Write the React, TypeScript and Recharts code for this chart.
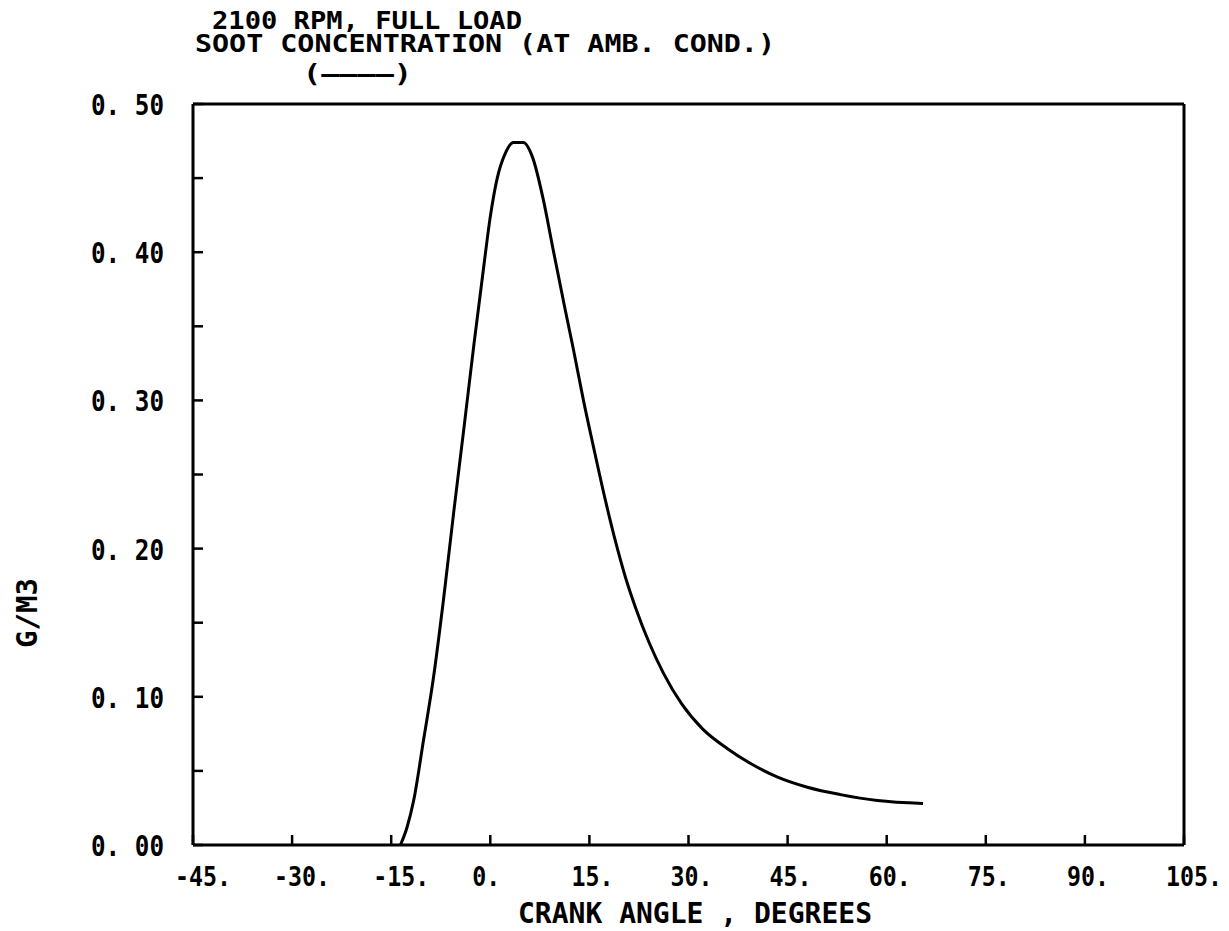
import React from "react";
import {
  Line,
  LineChart,
  ReferenceLine,
  XAxis,
  YAxis,
} from "recharts";

// Soot concentration trace, 2100 rpm full load
const crankAngle = [
  -13.6, -12.6, -11.6, -10.1, -8.6, -7.1, -5.5, -4.0, -2.5, -1.0, 0.0, 1.0,
  2.3, 3.5, 5.0, 6.4, 8.0, 9.5, 11.3, 12.6, 14.1, 15.6, 17.4, 19.0, 20.5, 22.0,
  24.0, 26.2, 29.0, 32.2, 35.9, 39.4, 43.4, 48.0, 53.0, 58.6, 65.5,
];
const sootConc = [
  0.0, 0.012, 0.03, 0.071, 0.113, 0.165, 0.226, 0.281, 0.337, 0.39, 0.424,
  0.449, 0.467, 0.474, 0.474, 0.464, 0.436, 0.402, 0.362, 0.334, 0.3, 0.269,
  0.233, 0.204, 0.18, 0.16, 0.137, 0.116, 0.095, 0.078, 0.065, 0.055, 0.046,
  0.039, 0.034, 0.03, 0.028,
];

const xTicks = [-45, -30, -15, 0, 15, 30, 45, 60, 75, 90, 105];
const yTicks = [0, 0.05, 0.1, 0.15, 0.2, 0.25, 0.3, 0.35, 0.4, 0.45, 0.5];

const titleLines = [
  "2100 RPM, FULL LOAD",
  "SOOT CONCENTRATION (AT AMB. COND.)",
];
const xLabel = "CRANK ANGLE , DEGREES";
const yLabel = "G/M3";

// plotter lettering is monospaced and bold
const FONT = "'DejaVu Sans Mono', monospace";

const data = crankAngle.map((x, i) => ({ x, y: sootConc[i] }));

function XTick(props: any) {
  const { x, y, payload } = props;
  const label = `${payload.value}.`;
  return (
    <g>
      <line x1={x} x2={x} y1={y} y2={y - 10} stroke="#000" strokeWidth={2.5} />
      <text
        x={x - 18}
        y={y + 41}
        fontFamily={FONT}
        fontWeight="bold"
        fontSize={26}
        fill="#000"
        textLength={label.length * 14}
        lengthAdjust="spacingAndGlyphs"
      >
        {label}
      </text>
    </g>
  );
}

function YTick(props: any) {
  const { x, y, payload, index } = props;
  const major = index % 2 === 0;
  return (
    <g>
      <line x1={x} x2={x + 10} y1={y} y2={y} stroke="#000" strokeWidth={2.5} />
      {major && (
        <text
          x={x - 102}
          y={y + 11}
          fontFamily={FONT}
          fontWeight="bold"
          fontSize={28}
          fill="#000"
          textLength={73}
          lengthAdjust="spacingAndGlyphs"
        >
          {payload.value.toFixed(2).replace(".", ". ")}
        </text>
      )}
    </g>
  );
}

export default function App() {
  return (
    <div
      style={{
        position: "absolute",
        left: 0,
        top: 0,
        width: 1229,
        height: 931,
        background: "#fff",
      }}
    >
      <LineChart
        width={1229}
        height={931}
        data={data}
        margin={{ top: 104, right: 45, bottom: 26, left: 93 }}
      >
        <XAxis
          dataKey="x"
          type="number"
          domain={[-45, 105]}
          ticks={xTicks}
          allowDataOverflow
          height={60}
          tickSize={0}
          tickMargin={0}
          tickLine={false}
          axisLine={{ stroke: "#000", strokeWidth: 3 }}
          tick={<XTick />}
        />
        <YAxis
          type="number"
          domain={[0, 0.5]}
          ticks={yTicks}
          allowDataOverflow
          width={100}
          tickSize={0}
          tickMargin={0}
          tickLine={false}
          axisLine={{ stroke: "#000", strokeWidth: 3 }}
          tick={<YTick />}
        />
        {/* close the frame: top and right edges */}
        <ReferenceLine y={0.5} stroke="#000" strokeWidth={3} />
        <ReferenceLine x={105} stroke="#000" strokeWidth={3} />
        <Line
          dataKey="y"
          type="monotone"
          stroke="#000"
          strokeWidth={3}
          dot={false}
          isAnimationActive={false}
        />
      </LineChart>
      <svg
        width={1229}
        height={931}
        style={{ position: "absolute", left: 0, top: 0, pointerEvents: "none" }}
      >
        <g fontFamily={FONT} fontWeight="bold" fontSize={24} fill="#000">
          <text x={212} y={29} textLength={310} lengthAdjust="spacingAndGlyphs">
            {titleLines[0]}
          </text>
          <text x={195} y={52} textLength={580} lengthAdjust="spacingAndGlyphs">
            {titleLines[1]}
          </text>
          <text x={303} y={82} textLength={109} lengthAdjust="spacingAndGlyphs">
            {"(\u2014\u2014\u2014\u2014)"}
          </text>
        </g>
        <g fontFamily={FONT} fontWeight="bold" fontSize={28} fill="#000">
          <text
            x={518}
            y={923}
            textLength={354}
            lengthAdjust="spacingAndGlyphs"
          >
            {xLabel}
          </text>
          <text
            x={0}
            y={0}
            textAnchor="middle"
            textLength={70}
            lengthAdjust="spacingAndGlyphs"
            transform="translate(37 613) rotate(-90)"
          >
            {yLabel}
          </text>
        </g>
      </svg>
    </div>
  );
}
